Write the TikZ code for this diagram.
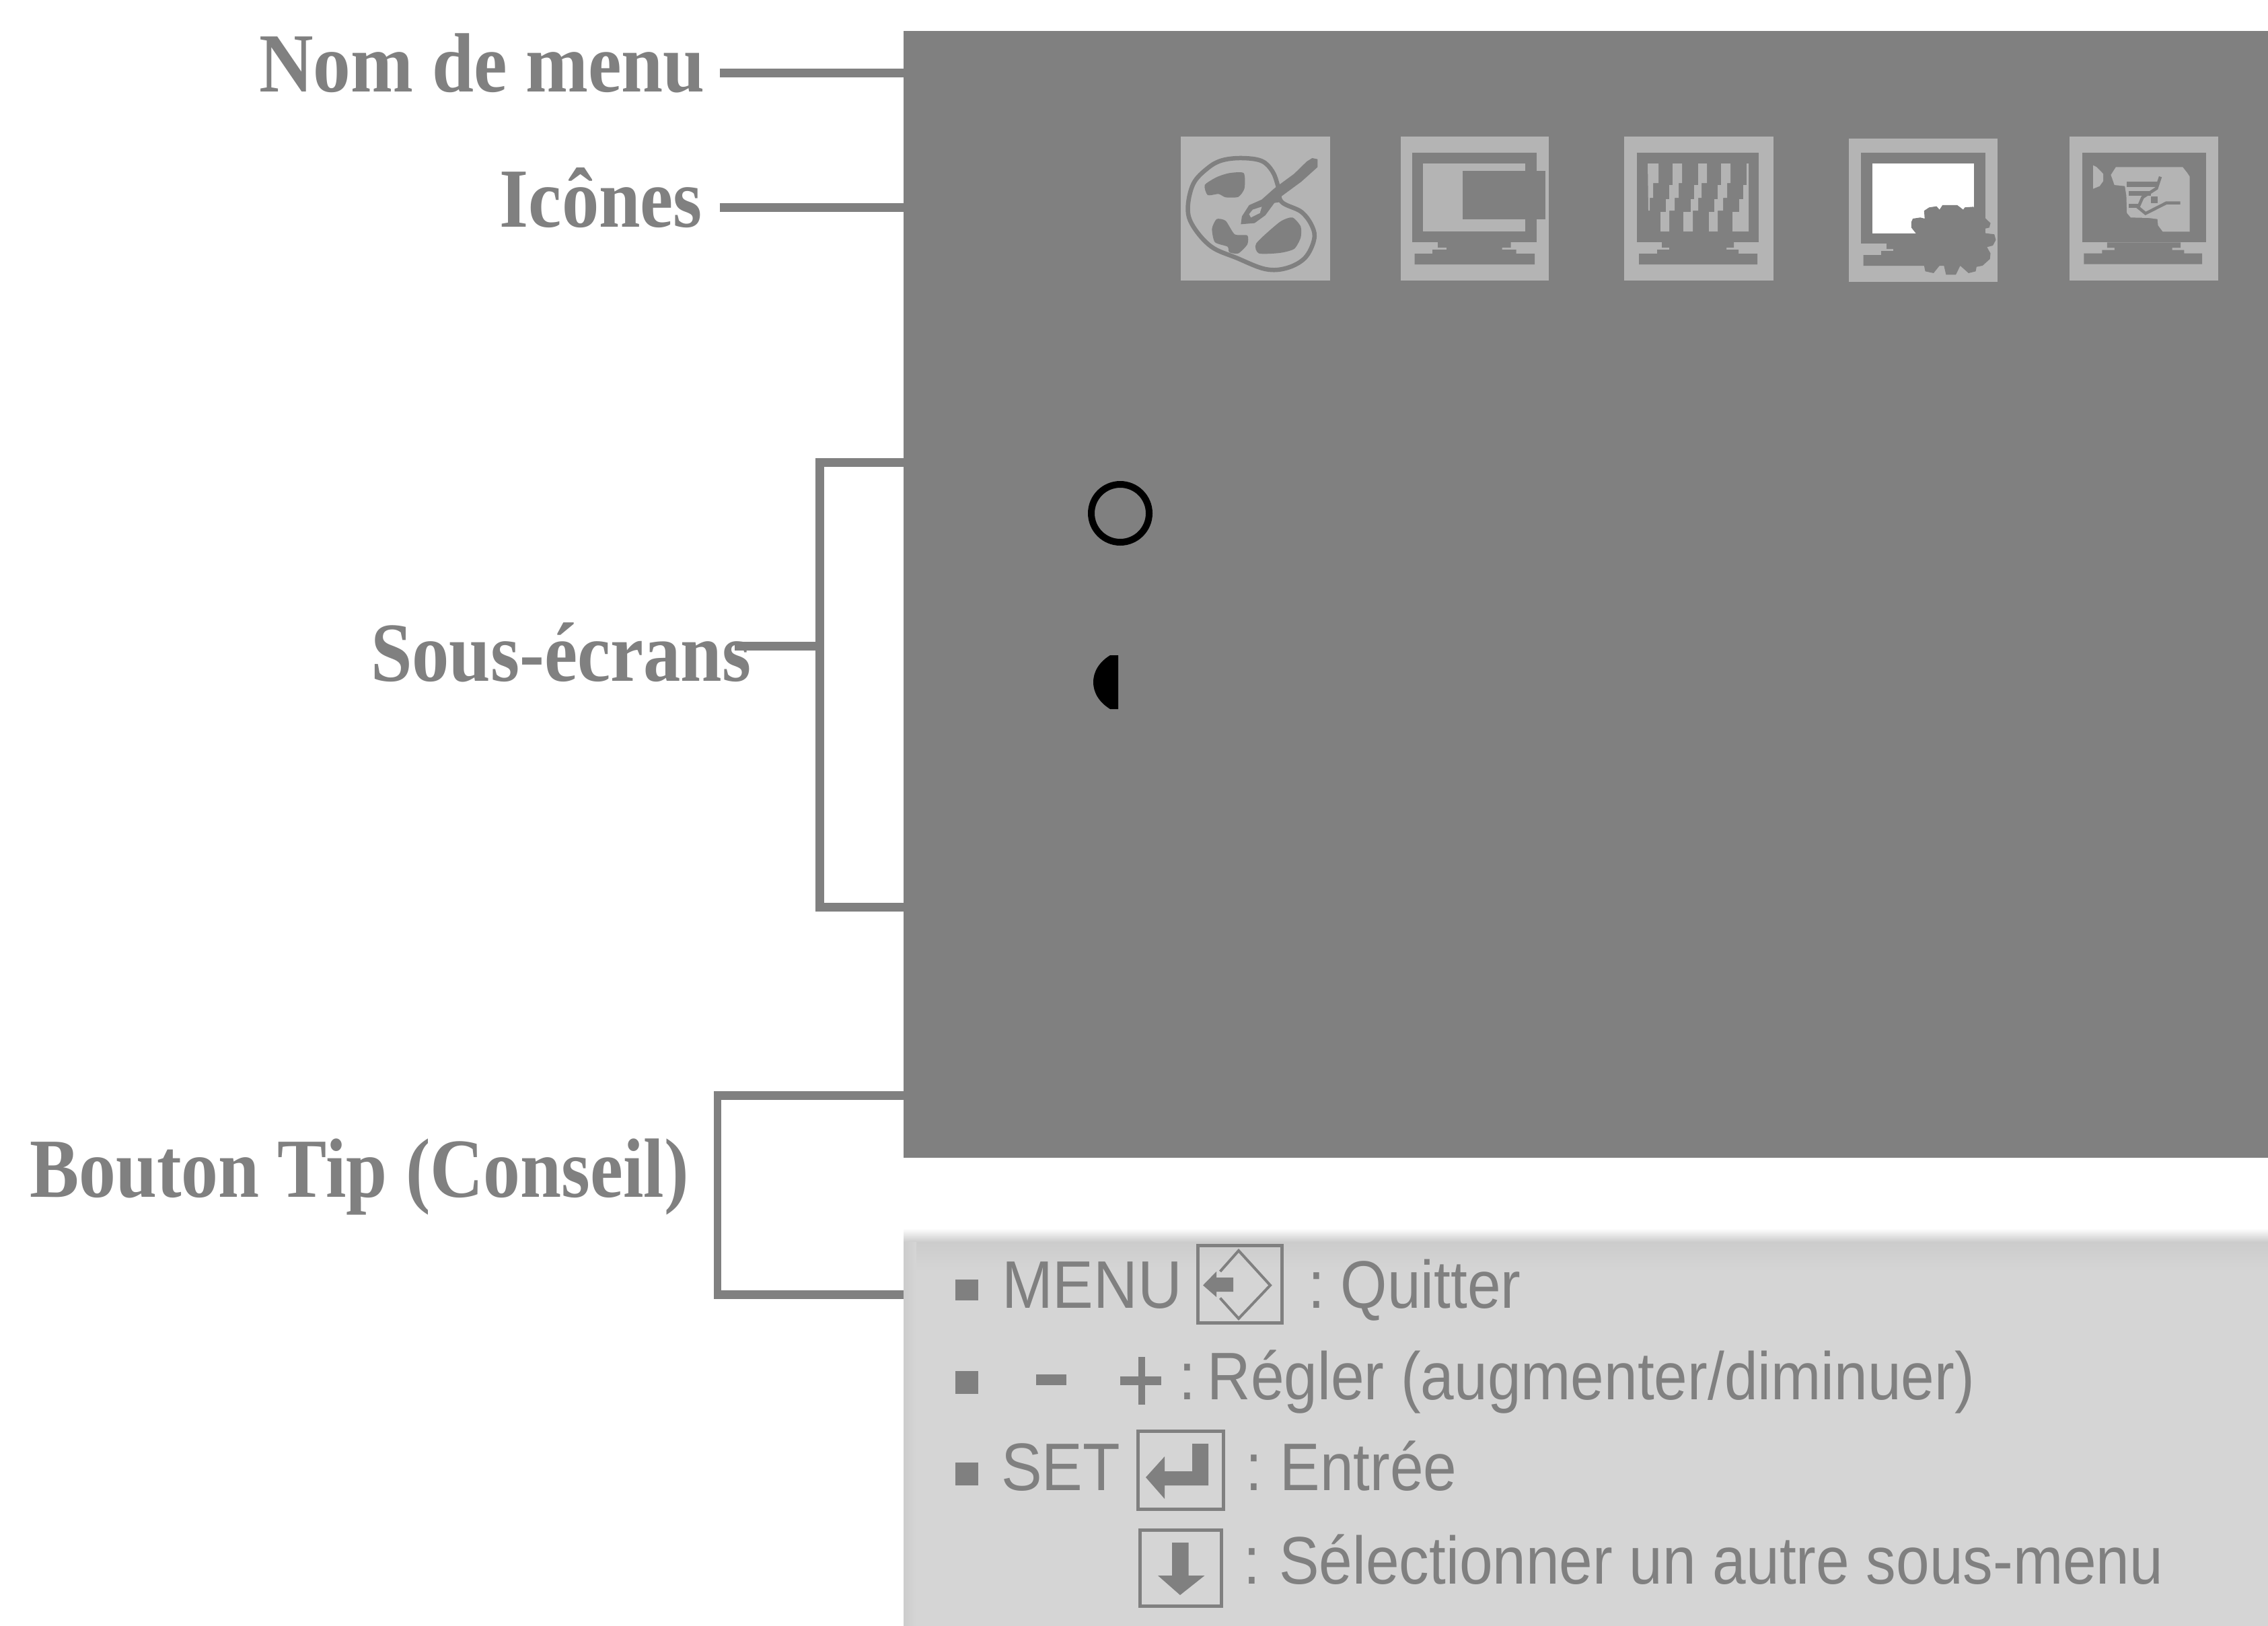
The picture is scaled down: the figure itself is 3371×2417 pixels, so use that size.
\documentclass[tikz,border=0pt]{standalone}
\usepackage{graphicx}
\usepackage{fontspec}
\setmainfont{Liberation Serif}
\setsansfont{Liberation Sans}
\definecolor{gr}{HTML}{808080}
\definecolor{lt}{HTML}{B4B4B4}
\definecolor{tipbg}{HTML}{D5D5D5}
\definecolor{tipedge}{HTML}{CCCCCC}
\newcommand\lab[2]{\scalebox{#1}[1]{#2}}
\newcommand\tiptxt[1]{\scalebox{.892}[1]{#1}}
\newcommand\keytxt[1]{\scalebox{.91}[1]{#1}}
% L R top bottom neckL sliverL stepL baseL baseR
\newcommand\drawmon[9]{%
  \fill[gr] (#1,#3) rectangle (#2,#4);
  \fill[gr] (#5,#4) -- (#5,#4+8) -- (#6,#4+8) -- (#6,#4+11) -- (#7,#4+11) -- (#7,#4+17)
    -- (#8,#4+17) -- (#8,#4+33) -- (#9,#4+33) -- (#9,#4+17)
    -- ({#1+#2-#7},#4+17) -- ({#1+#2-#7},#4+11) -- ({#1+#2-#6},#4+11) -- ({#1+#2-#6},#4+8)
    -- ({#1+#2-#5},#4+8) -- ({#1+#2-#5},#4) -- cycle;
}
\tikzset{
  lead/.style={draw=gr,line width=13pt,line cap=butt,line join=miter},
  label/.style={font=\fontsize{125}{125}\selectfont\bfseries,text=gr,inner sep=0pt,outer sep=0pt},
  tip/.style={font=\sffamily\fontsize{100}{100}\selectfont,text=gr,inner sep=0pt,outer sep=0pt,anchor=base west},
  keybox/.style={draw=gr,line width=5pt,fill=none},
  panelbox/.style={fill=gr,inner sep=0pt,outer sep=0pt,anchor=north west},
  iconbg/.style={fill=lt},
}
\begin{document}
\begin{tikzpicture}[x=1pt,y=-1pt]
\useasboundingbox (0,0) rectangle (3371,2417);
\fill[white] (0,0) rectangle (3371,2417);

% panels
\node[panelbox,minimum width=2028pt,minimum height=1675pt] (panel) at (1343,46) {};
\node[panelbox,fill=tipbg,minimum width=2028pt,minimum height=579pt] (tippanel) at (1343,1838) {};
\shade[top color=white,bottom color=tipedge] (1343,1826) rectangle (3371,1846);
\shade[top color=tipedge,bottom color=tipbg] (1343,1846) rectangle (3371,1890);
\shade[left color=tipedge,right color=tipbg] (1343,1846) rectangle (1362,2417);

% labels
\node[label,anchor=base east] (nom) at (1048,136) {\lab{.892}{Nom de menu}};
\node[label,anchor=base east] (ico) at (1044,337) {\lab{.885}{Icônes}};
\node[label,anchor=base west] (sous) at (551,1012) {\lab{.885}{Sous-écrans}};
\node[label,anchor=base west] (bouton) at (44,1779) {\lab{.878}{Bouton Tip (Conseil)}};

% connectors
\coordinate (cnom) at (1070,108.5);
\coordinate (cico) at (1070,308.5);
\draw[lead] (cnom) -- (cnom -| panel.west);
\draw[lead] (cico) -- (cico -| panel.west);
\coordinate (stop) at (1218.5,687);
\coordinate (sbot) at (1218.5,1348.5);
\coordinate (smid) at (1092,960);
\draw[lead] (stop -| panel.west) -- (stop) -- (sbot) -- (sbot -| panel.west);
\draw[lead] (smid) -- (smid -| stop);
\coordinate (btop) at (1067,1628.5);
\coordinate (bbot) at (1067,1924.5);
\draw[lead] (btop -| panel.west) -- (btop);
\draw[lead] (bbot) -- (bbot -| tippanel.west);
\draw[draw=gr,line width=11pt] (1066.5,1622) -- (1066.5,1931);

% icon 1: palette
\fill[iconbg] (1755,203) rectangle (1977,417);
\begin{scope}[shift={(1720,180)},x=0.5357pt,y=-0.3333pt]
  \draw[gr,line width=6.5pt] plot[smooth cycle,tension=.6] coordinates {(235,165)(290,178)(320,225)(335,290)(345,360)(400,405)(430,470)(435,530)(410,610)(360,655)(300,660)(220,610)(150,560)(100,470)(85,390)(100,280)(140,210)(180,175)};
  \fill[gr] plot[smooth cycle,tension=.4] coordinates {(200,232)(240,232)(242,300)(225,338)(190,340)(170,325)(140,330)(132,285)(165,250)};
  \fill[gr] plot[smooth cycle,tension=.4] coordinates {(165,437)(190,445)(215,505)(250,510)(250,550)(225,590)(200,585)(195,560)(160,540)(152,480)};
  \fill[gr] plot[smooth cycle,tension=.4] coordinates {(375,430)(398,470)(398,520)(380,570)(340,588)(282,590)(275,545)(340,450)};
  \fill[gr] (430,165) -- (445,170) -- (445,205) -- (400,270) -- (345,335) -- (345,360) -- (325,365) -- (300,420) -- (270,455) -- (232,460) -- (235,425) -- (255,375) -- (290,350) -- (325,300) -- (380,235) -- (415,180) -- cycle;
  \fill[lt] (290,382) -- (285,410) -- (260,430) -- (255,415) -- (265,395) -- cycle;
\end{scope}

% icon 2
\fill[iconbg] (2081.5,203) rectangle (2302,417);
\drawmon{2099}{2283.5}{227}{360}{2137}{2150}{2129}{2102.5}{2281}
\fill[lt] (2115,243) rectangle (2267,344);
\fill[gr] (2174,254) rectangle (2297,326);

% icon 3
\fill[iconbg] (2414,203) rectangle (2636,417);
\drawmon{2433}{2614}{227}{360}{2470}{2481}{2463}{2436}{2612}
\fill[lt] (2449,243) -- (2465,243) -- (2465,272) -- (2457,272) -- (2457,294) -- (2452,294) -- (2452,313) -- (2450,313) -- cycle;
\fill[lt] (2486,243) -- (2500,243) -- (2500,272) -- (2495,272) -- (2495,294) -- (2489,294) -- (2489,313) -- (2481,313) -- (2481,344) -- (2468,344) -- (2468,315) -- (2476,315) -- (2476,296) -- (2481,296) -- (2481,275) -- (2486,275) -- cycle;
\fill[lt] (2524,243) -- (2537,243) -- (2537,272) -- (2529,272) -- (2529,294) -- (2524,294) -- (2524,313) -- (2516,313) -- (2516,344) -- (2502,344) -- (2502,315) -- (2513,315) -- (2513,296) -- (2518,296) -- (2518,275) -- (2524,275) -- cycle;
\fill[lt] (2558,243) -- (2572,243) -- (2572,272) -- (2567,272) -- (2567,294) -- (2561,294) -- (2561,313) -- (2553,313) -- (2553,344) -- (2540,344) -- (2540,315) -- (2548,315) -- (2548,296) -- (2553,296) -- (2553,275) -- (2558,275) -- cycle;
\fill[lt] (2596,243) -- (2599,243) -- (2599,344) -- (2575,344) -- (2575,315) -- (2585,315) -- (2585,296) -- (2591,296) -- (2591,275) -- (2596,275) -- cycle;

% icon 4
\fill[iconbg] (2747.5,206) rectangle (2969,419);
\drawmon{2766}{2950.6}{227}{362}{2804}{2814}{2796}{2769.5}{2930}
\fill[white] (2783,243) rectangle (2934,347);
\begin{scope}[shift={(2680,180)},x=0.4407pt,y=-0.3333pt]
  \fill[gr] (365,450) -- (370,435) -- (395,430) -- (410,435) -- (408,400) -- (425,385) -- (450,380) -- (460,395) -- (470,375) -- (520,375) -- (540,395) -- (545,385) -- (575,382) -- (580,405) -- (612,430) -- (632,455) -- (628,475) -- (612,480) -- (615,500) -- (645,505) -- (650,530) -- (640,555) -- (620,562) -- (632,590) -- (630,615) -- (605,645) -- (585,650) -- (582,670) -- (558,678) -- (530,645) -- (515,685) -- (482,685) -- (475,645) -- (460,645) -- (440,678) -- (412,670) -- (408,645) -- (400,560) -- (380,500) -- (365,475) -- cycle;
\end{scope}

% icon 5
\fill[iconbg] (3076,203) rectangle (3297,417);
\begin{scope}[shift={(2680,180)},x=0.4407pt,y=-0.3333pt]
  \fill[gr] (941,142) rectangle (1358,541);
  \fill[gr] (1025,541) -- (1025,565) -- (1050,565) -- (1050,575) -- (1008,575) -- (1008,590) -- (947,590) -- (947,638) -- (1346,638) -- (1346,590) -- (1285,590) -- (1285,575) -- (1245,575) -- (1245,565) -- (1273,565) -- (1273,541) -- cycle;
  \fill[lt] (978,197) -- (990,205) -- (1012,235) -- (1012,268) -- (1000,290) -- (978,302) -- cycle;
  \fill[lt] (1055,205) -- (1280,205) -- (1295,230) -- (1304,248) -- (1304,493) -- (1213,493) -- (1197,465) -- (1195,437) -- (1165,432) -- (1105,430) -- (1092,410) -- (1090,330) -- (1085,290) -- (1050,285) -- (1038,240) -- cycle;
  \fill[gr] (1092,270) rectangle (1198,293);
  \fill[gr] (1098,312) rectangle (1172,332);
  \fill[gr] (1098,368) rectangle (1137,388);
  \fill[gr] (1172,335) rectangle (1195,365);
  \draw[gr,line width=4.5pt] (1205,248) -- (1192,300) -- (1145,340) -- (1130,385) -- (1155,412) -- (1225,365) -- (1272,365);
\end{scope}

% sub-screen symbols
\node[circle,draw=black,line width=10pt,fill=none,minimum size=86pt,inner sep=0pt,outer sep=0pt] (ring) at (1665,763) {};
\fill[black] (1662,974) -- (1650,974) .. controls (1634,984) and (1625,998) .. (1625,1014) .. controls (1625,1030) and (1634,1044) .. (1650,1054) -- (1662,1054) -- cycle;

% bullets
\fill[gr] (1420,1902) rectangle (1454,1933);
\fill[gr] (1420,2038) rectangle (1454,2072);
\fill[gr] (1420,2174) rectangle (1454,2208);

% tip texts
\node[tip] (menu) at (1489,1944) {\keytxt{MENU}};
\node[tip] (quit) at (1944,1944) {\tiptxt{:\hspace{-10pt} Quitter}};
\node[tip] (regl) at (1752,2080) {\tiptxt{:\hspace{-17pt} Régler (augmenter/diminuer)}};
\node[tip] (setk) at (1488,2215) {\keytxt{SET}};
\node[tip] (entr) at (1851,2215) {\tiptxt{:\hspace{-7pt} Entrée}};
\node[tip] (sele) at (1848,2354) {\tiptxt{:\hspace{-5pt} Sélectionner un autre sous-menu}};

% minus, plus
\fill[gr] (1540,2043) rectangle (1585,2059);
\fill[gr] (1665,2046) rectangle (1726,2059);
\fill[gr] (1692,2017) rectangle (1702,2088);

% key: MENU
\draw[keybox] (1780,1851) rectangle (1905,1966);
\draw[gr,line width=4pt] (1813.5,1890) -- (1841,1859) -- (1888,1910.5) -- (1841,1960) -- (1813.5,1929.5);
\fill[gr] (1788,1910.5) -- (1808,1890) -- (1808,1899) -- (1833,1899) -- (1833,1920) -- (1808,1920) -- (1808,1928) -- cycle;

% key: SET
\draw[keybox] (1691.5,2127) rectangle (1818,2243);
\fill[gr] (1703,2196) -- (1731,2165) -- (1731,2187) -- (1772,2187) -- (1772,2146) -- (1796,2146) -- (1796,2208) -- (1731,2208) -- (1731,2228) -- cycle;

% key: down
\draw[keybox] (1694,2274.5) rectangle (1815,2387);
\fill[gr] (1742,2293) -- (1766.5,2293) -- (1766.5,2342) -- (1790.5,2342) -- (1754,2371) -- (1721,2342) -- (1742,2342) -- cycle;
\end{tikzpicture}
\end{document}
